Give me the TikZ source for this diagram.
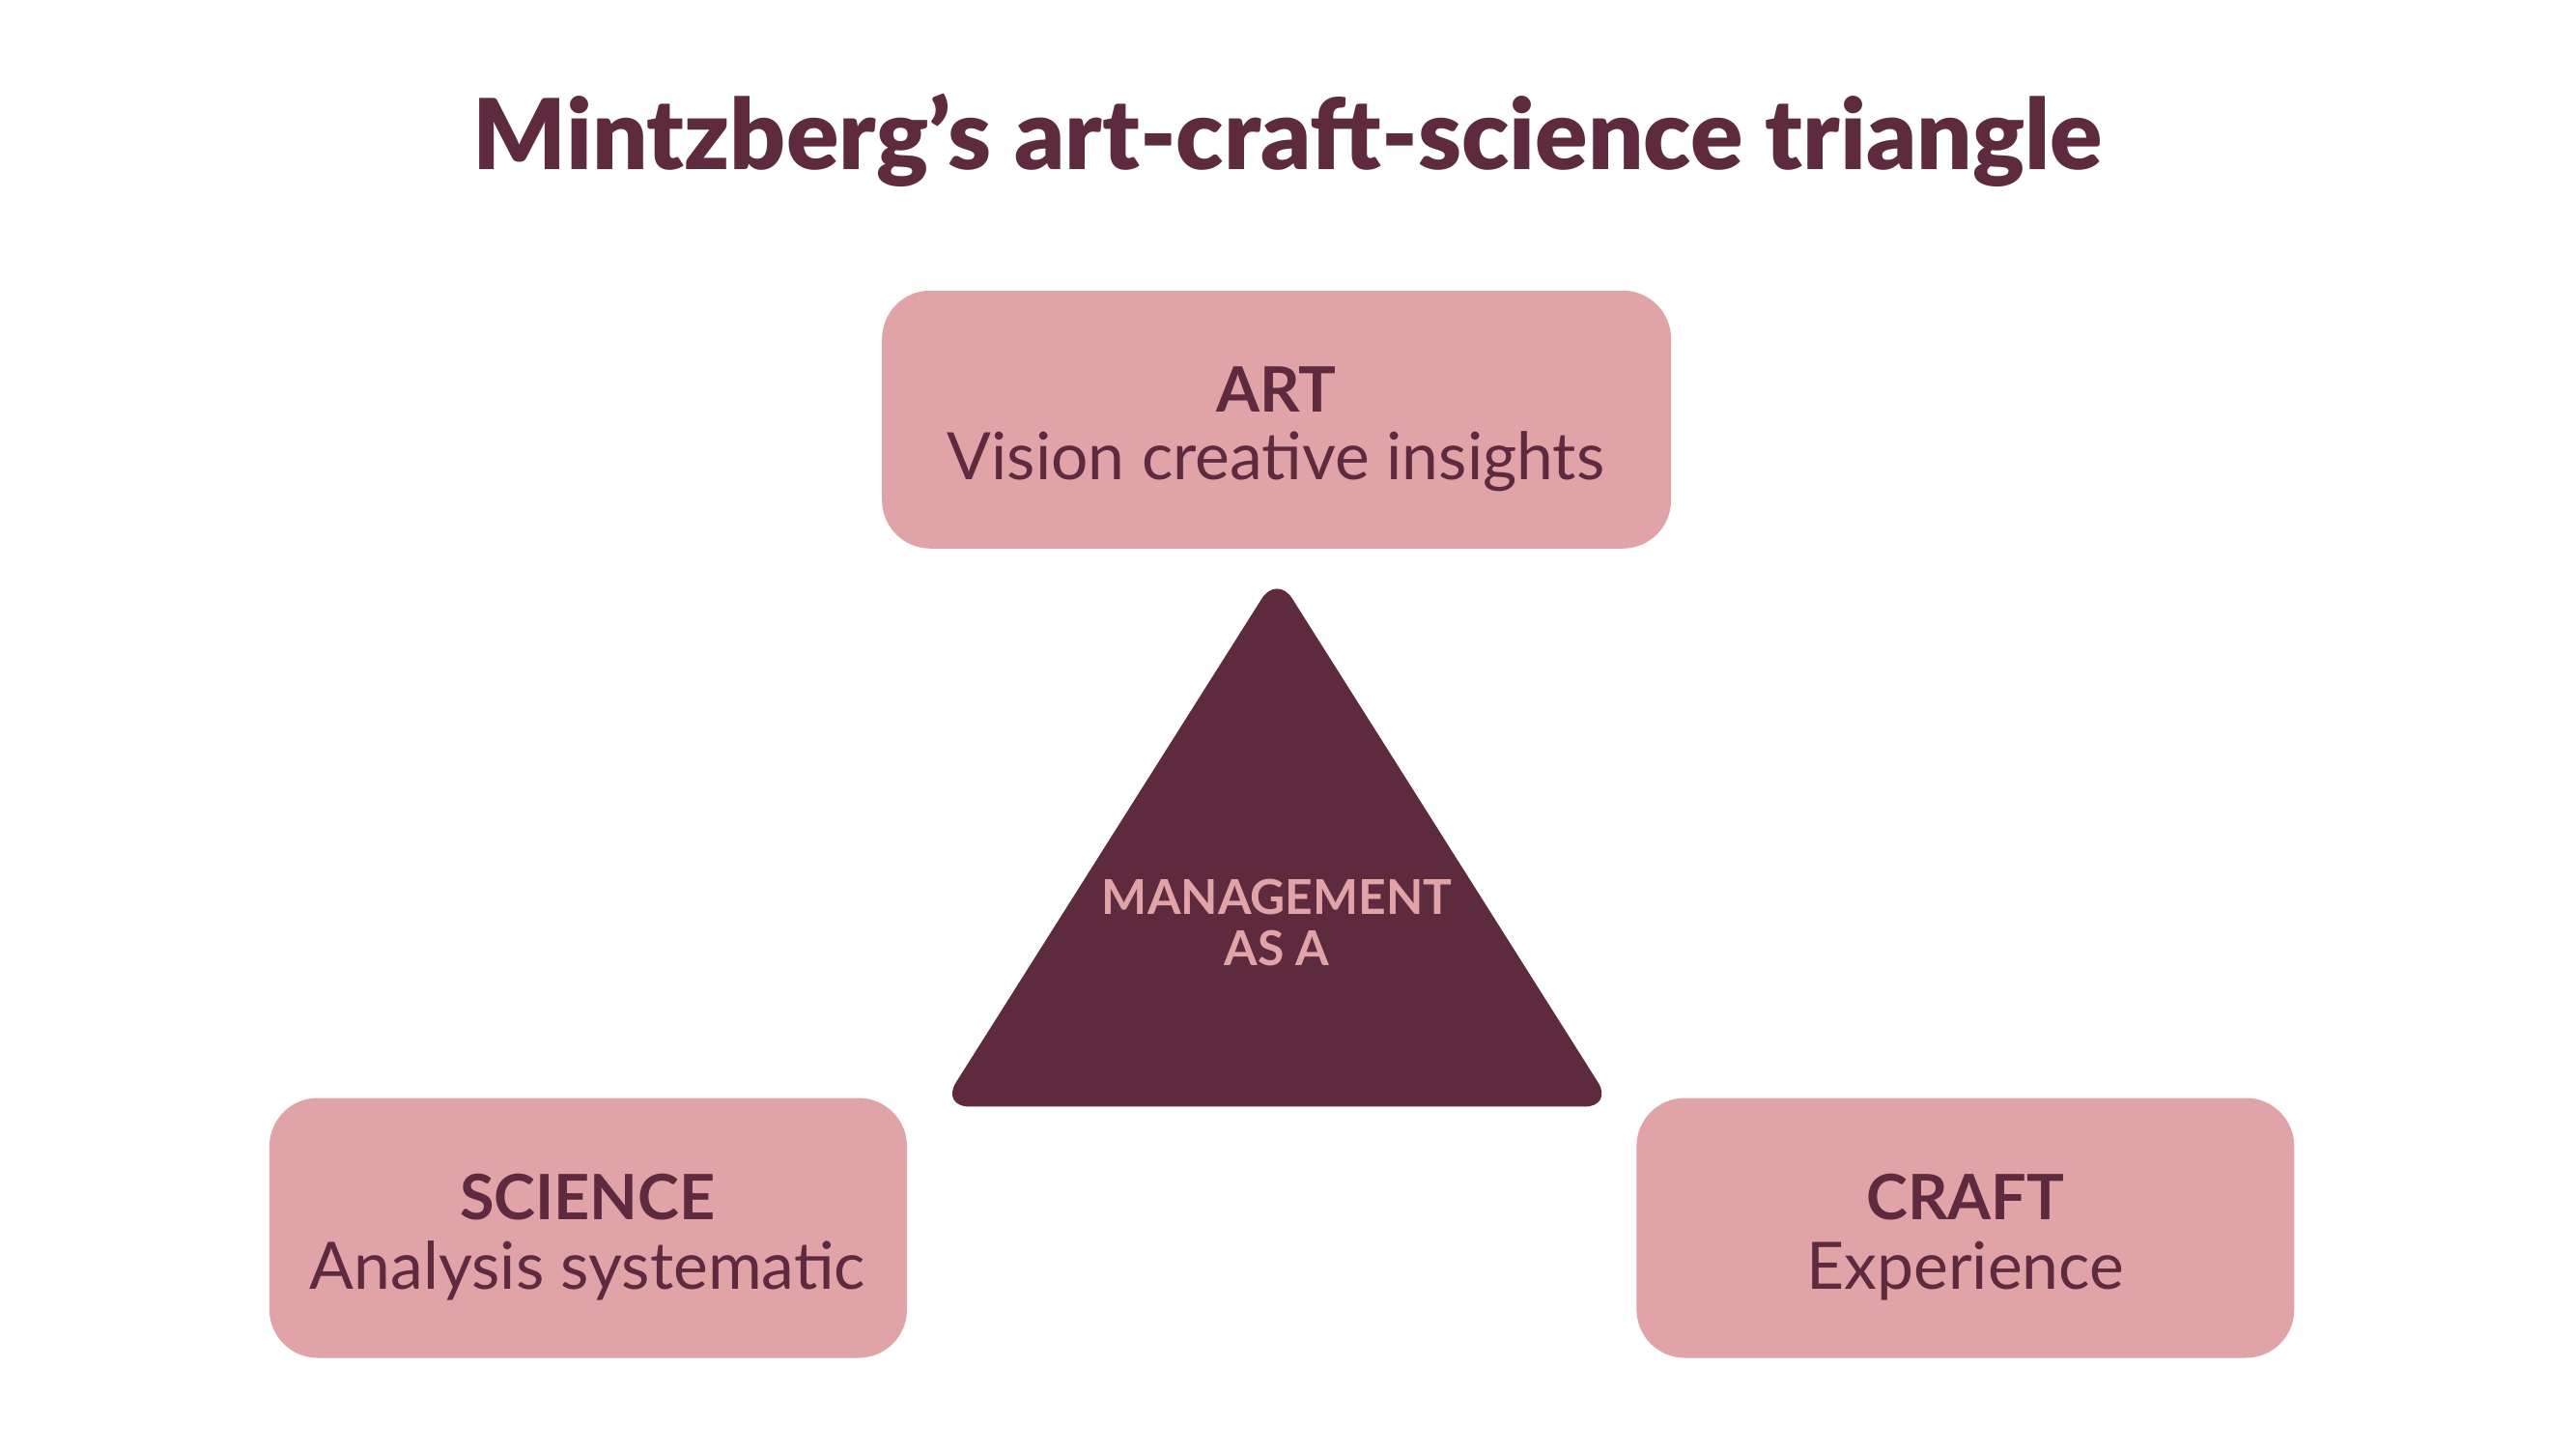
\documentclass[tikz,border=0pt]{standalone}
\usepackage{fontspec}
\setmainfont{Lato}
\newfontfamily\titlefont{Lato Black}
\definecolor{maroon}{HTML}{5D2A3E}
\definecolor{rose}{HTML}{E0A4A8}
\tikzset{
  pinkbox/.style={fill=rose, draw=none, rounded corners=50bp},
  headtext/.style={text=maroon, font=\fontsize{65}{70}\selectfont\bfseries, inner sep=0pt, anchor=center},
  bodytext/.style={text=maroon, font=\fontsize{68}{72}\selectfont, inner sep=0pt, anchor=center},
  tri/.style={fill=maroon, draw=maroon, line width=2bp, rounded corners=28bp},
  tritext/.style={text=rose, font=\fontsize{50}{54}\selectfont\bfseries, inner sep=0pt, align=center}
}
\begin{document}
\begin{tikzpicture}[x=0.9926bp,y=-0.9926bp]
\useasboundingbox (0,0) rectangle (2686.9,1515.2);
\fill[white] (0,0) rectangle (2686.9,1515.2);
% title
\node[text=maroon, font=\fontsize{101.5}{110}\selectfont\titlefont, inner sep=0pt] (title) at (1343,146) {Mintzberg’s art-craft-science triangle};
% boxes
\draw[pinkbox] (920,303) rectangle (1743,572);
\node[headtext] (arthead) at (1331,406) {ART};
\node[bodytext] (artbody) at (1331,481) {Vision creative insights};

\draw[pinkbox] (281,1145) rectangle (946,1416);
\node[headtext] (scihead) at (613,1248) {SCIENCE};
\node[bodytext] (scibody) at (613,1325) {Analysis systematic};

\draw[pinkbox] (1707,1145) rectangle (2393,1416);
\node[headtext] (crafthead) at (2050,1248) {CRAFT};
\node[bodytext] (craftbody) at (2050,1325) {Experience};

% triangle
\draw[tri] (1332,601) -- (1681,1153) -- (983,1153) -- cycle;
\node[tritext] (mgmt) at (1332,962) {MANAGEMENT\\AS A};
\end{tikzpicture}
\end{document}
